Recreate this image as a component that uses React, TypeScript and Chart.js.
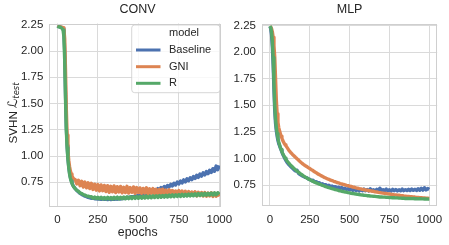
import React, { useEffect, useRef } from "react";
import { Chart, registerables } from "chart.js";

Chart.register(...registerables);

// ---------- data ----------
const EPOCHS = [
  0, 5, 10, 15, 20, 25, 30, 35, 40, 45, 50, 55, 60, 65, 70, 75, 80, 85, 90, 95, 100,
  110, 120, 130, 140, 150, 160, 170, 180, 190, 200,
  210, 220, 230, 240, 250, 260, 270, 280, 290, 300,
  310, 320, 330, 340, 350, 360, 370, 380, 390, 400,
  410, 420, 430, 440, 450, 460, 470, 480, 490, 500,
  510, 520, 530, 540, 550, 560, 570, 580, 590, 600,
  610, 620, 630, 640, 650, 660, 670, 680, 690, 700,
  710, 720, 730, 740, 750, 760, 770, 780, 790, 800,
  810, 820, 830, 840, 850, 860, 870, 880, 890, 900,
  910, 920, 930, 940, 950, 960, 970, 980, 990, 1000,
];

const MODELS = ["Baseline", "GNI", "R"];
const X_TICKS = [0, 250, 500, 750, 1000];
const Y_TICKS = [0.75, 1.0, 1.25, 1.5, 1.75, 2.0, 2.25];

const CONV_BASELINE = [
  2.24, 2.235, 2.232, 2.23, 2.228, 2.225, 2.22, 2.215, 2.18, 2.0, 1.6, 1.28, 1.1, 0.98, 0.9, 0.84, 0.8, 0.77, 0.745, 0.725, 0.71,
  0.69, 0.672, 0.658, 0.645, 0.634, 0.626, 0.618, 0.613, 0.606, 0.603,
  0.598, 0.6, 0.593, 0.596, 0.59, 0.593, 0.588, 0.592, 0.587, 0.59,
  0.585, 0.59, 0.586, 0.59, 0.587, 0.592, 0.589, 0.594, 0.591, 0.597,
  0.596, 0.603, 0.601, 0.608, 0.606, 0.614, 0.612, 0.62, 0.619, 0.627,
  0.622, 0.64, 0.628, 0.65, 0.637, 0.659, 0.646, 0.668, 0.656, 0.679,
  0.667, 0.69, 0.677, 0.7, 0.687, 0.71, 0.697, 0.72, 0.706, 0.73,
  0.716, 0.741, 0.724, 0.752, 0.735, 0.762, 0.744, 0.773, 0.754, 0.783,
  0.765, 0.794, 0.775, 0.805, 0.786, 0.817, 0.797, 0.829, 0.809, 0.84,
  0.82, 0.852, 0.832, 0.865, 0.844, 0.88, 0.855, 0.905, 0.87, 0.91,
];

const CONV_GNI = [
  2.24, 2.238, 2.235, 2.233, 2.23, 2.228, 2.225, 2.222, 2.21, 2.12, 1.82, 1.45, 1.2, 1.05, 0.96, 0.9, 0.86, 0.83, 0.81, 0.795, 0.785,
  0.775, 0.735, 0.77, 0.718, 0.76, 0.705, 0.752, 0.698, 0.745, 0.69,
  0.74, 0.682, 0.732, 0.675, 0.728, 0.668, 0.725, 0.67, 0.72, 0.662,
  0.718, 0.655, 0.712, 0.66, 0.715, 0.652, 0.708, 0.658, 0.71, 0.65,
  0.702, 0.652, 0.712, 0.648, 0.7, 0.655, 0.706, 0.645, 0.7, 0.652,
  0.696, 0.645, 0.692, 0.648, 0.698, 0.64, 0.688, 0.646, 0.69, 0.64,
  0.684, 0.642, 0.682, 0.636, 0.685, 0.64, 0.676, 0.635, 0.678, 0.632,
  0.672, 0.635, 0.668, 0.632, 0.672, 0.628, 0.666, 0.632, 0.664, 0.626,
  0.662, 0.624, 0.658, 0.627, 0.66, 0.62, 0.655, 0.625, 0.653, 0.62,
  0.652, 0.618, 0.648, 0.621, 0.65, 0.616, 0.645, 0.618, 0.646, 0.616,
];

const CONV_R = [
  2.235, 2.232, 2.23, 2.228, 2.225, 2.22, 2.212, 2.2, 2.14, 1.92, 1.55, 1.25, 1.08, 0.97, 0.89, 0.83, 0.79, 0.762, 0.74, 0.722, 0.708,
  0.69, 0.673, 0.664, 0.649, 0.643, 0.633, 0.628, 0.62, 0.618, 0.611,
  0.614, 0.598, 0.61, 0.595, 0.608, 0.593, 0.607, 0.592, 0.606, 0.591,
  0.607, 0.592, 0.606, 0.591, 0.608, 0.593, 0.609, 0.592, 0.608, 0.594,
  0.61, 0.593, 0.611, 0.595, 0.612, 0.596, 0.613, 0.597, 0.614, 0.598,
  0.615, 0.599, 0.617, 0.6, 0.618, 0.602, 0.619, 0.603, 0.621, 0.605,
  0.622, 0.606, 0.624, 0.607, 0.625, 0.609, 0.627, 0.61, 0.628, 0.612,
  0.63, 0.613, 0.632, 0.615, 0.633, 0.616, 0.635, 0.618, 0.636, 0.619,
  0.638, 0.621, 0.639, 0.622, 0.641, 0.623, 0.642, 0.625, 0.643, 0.626,
  0.645, 0.627, 0.646, 0.629, 0.648, 0.63, 0.649, 0.631, 0.651, 0.635,
];

const MLP_BASELINE = [
  2.24, 2.22, 2.16, 2.05, 1.88, 1.65, 1.45, 1.33, 1.26, 1.21, 1.17, 1.14, 1.12, 1.1, 1.08, 1.06, 1.04, 1.025, 1.01, 0.995, 0.98,
  0.958, 0.94, 0.925, 0.91, 0.895, 0.882, 0.888, 0.858, 0.848, 0.838,
  0.832, 0.822, 0.82, 0.806, 0.805, 0.792, 0.795, 0.78, 0.782, 0.77,
  0.772, 0.758, 0.762, 0.75, 0.753, 0.742, 0.748, 0.735, 0.741, 0.73,
  0.735, 0.722, 0.73, 0.718, 0.726, 0.712, 0.72, 0.708, 0.716, 0.705,
  0.715, 0.7, 0.712, 0.698, 0.71, 0.695, 0.708, 0.697, 0.712, 0.696,
  0.708, 0.695, 0.715, 0.697, 0.706, 0.694, 0.71, 0.696, 0.72, 0.698,
  0.707, 0.695, 0.712, 0.696, 0.705, 0.694, 0.71, 0.697, 0.708, 0.695,
  0.705, 0.696, 0.712, 0.697, 0.707, 0.698, 0.71, 0.698, 0.712, 0.7,
  0.71, 0.699, 0.715, 0.701, 0.72, 0.702, 0.725, 0.704, 0.718, 0.708,
];

const MLP_GNI = [
  2.24, 2.235, 2.22, 2.19, 2.14, 2.06, 1.95, 1.75, 1.55, 1.42, 1.34, 1.29, 1.26, 1.235, 1.21, 1.19, 1.17, 1.155, 1.14, 1.13, 1.12,
  1.097, 1.073, 1.056, 1.04, 1.026, 1.011, 0.997, 0.984, 0.97, 0.956,
  0.944, 0.934, 0.925, 0.914, 0.905, 0.894, 0.886, 0.874, 0.866, 0.855,
  0.848, 0.838, 0.832, 0.822, 0.816, 0.808, 0.804, 0.796, 0.792, 0.785,
  0.781, 0.774, 0.771, 0.764, 0.761, 0.755, 0.753, 0.747, 0.745, 0.739,
  0.737, 0.731, 0.729, 0.723, 0.721, 0.716, 0.714, 0.709, 0.708, 0.703,
  0.702, 0.697, 0.696, 0.692, 0.691, 0.686, 0.685, 0.681, 0.679, 0.676,
  0.674, 0.671, 0.67, 0.667, 0.666, 0.662, 0.662, 0.658, 0.658, 0.654,
  0.654, 0.65, 0.65, 0.647, 0.646, 0.643, 0.643, 0.64, 0.64, 0.637,
  0.637, 0.634, 0.634, 0.631, 0.631, 0.629, 0.628, 0.626, 0.626, 0.624,
];

const MLP_R = [
  2.245, 2.23, 2.19, 2.1, 1.95, 1.72, 1.5, 1.37, 1.29, 1.235, 1.19, 1.155, 1.13, 1.105, 1.085, 1.065, 1.048, 1.032, 1.018, 1.004, 0.992,
  0.97, 0.953, 0.936, 0.922, 0.906, 0.894, 0.88, 0.869, 0.857, 0.847,
  0.836, 0.827, 0.817, 0.809, 0.8, 0.793, 0.784, 0.778, 0.77, 0.765,
  0.758, 0.753, 0.746, 0.742, 0.735, 0.731, 0.725, 0.721, 0.716, 0.713,
  0.707, 0.704, 0.699, 0.696, 0.692, 0.689, 0.685, 0.683, 0.679, 0.677,
  0.673, 0.671, 0.668, 0.666, 0.663, 0.661, 0.658, 0.657, 0.654, 0.653,
  0.65, 0.649, 0.647, 0.646, 0.644, 0.643, 0.641, 0.64, 0.638, 0.638,
  0.636, 0.636, 0.634, 0.634, 0.632, 0.632, 0.63, 0.63, 0.629, 0.629,
  0.627, 0.627, 0.626, 0.626, 0.624, 0.625, 0.623, 0.624, 0.622, 0.623,
  0.621, 0.622, 0.62, 0.621, 0.62, 0.62, 0.619, 0.62, 0.618, 0.619,
];

// ---------- styling ----------
const W = 449;
const H = 245;
const COLORS = ["#4c72b0", "#dd8452", "#55a868"];
const FONT = '"Liberation Sans", Arial, sans-serif';
const TEXT = "#262626";
const GRID = "#dadada";

type Panel = {
  title: string;
  series: number[][];
  xMin: number;
  xMax: number;
  yMin: number;
  yMax: number;
  area: { left: number; right: number; top: number; bottom: number };
  xTickPad: number;
  decorate: boolean;
};

const PANELS: Panel[] = [
  {
    title: "CONV",
    series: [CONV_BASELINE, CONV_GNI, CONV_R],
    xMin: -50,
    xMax: 1007,
    yMin: 0.512,
    yMax: 2.262,
    area: { left: 49.3, right: 220.5, top: 23.5, bottom: 207.3 },
    xTickPad: 5.8,
    decorate: true,
  },
  {
    title: "MLP",
    series: [MLP_BASELINE, MLP_GNI, MLP_R],
    xMin: -50,
    xMax: 1050,
    yMin: 0.553,
    yMax: 2.264,
    area: { left: 262, right: 439, top: 24, bottom: 206 },
    xTickPad: 6.5,
    decorate: false,
  },
];

const Y_AXIS_W = 40;
const X_AXIS_H = 30;

function makeDecor(panel: Panel) {
  return {
    id: "decor_" + panel.title,
    afterDraw(chart: any) {
      const { ctx, chartArea: a } = chart;
      ctx.save();
      // frame (spines)
      ctx.strokeStyle = "#cfcfcf";
      ctx.lineWidth = 1;
      const l = Math.round(a.left) + 0.5;
      const t = Math.round(a.top) + 0.5;
      const r = Math.round(a.right) - 0.5;
      const b = Math.round(a.bottom) - 0.5;
      ctx.strokeRect(l, t, r - l, b - t);

      // title
      ctx.fillStyle = TEXT;
      ctx.font = `12.5px ${FONT}`;
      ctx.textAlign = "center";
      ctx.textBaseline = "middle";
      const cx = panel.decorate ? 137.5 : (a.left + a.right) / 2;
      ctx.fillText(panel.title, cx, 10);

      if (panel.decorate) {
        // x label
        ctx.font = `12.3px ${FONT}`;
        ctx.textBaseline = "alphabetic";
        ctx.fillText("epochs", 137.7, 235.7);

        // y label: SVHN ℒ_test
        ctx.save();
        ctx.translate(16.6, 113);
        ctx.rotate(-Math.PI / 2);
        ctx.textAlign = "left";
        ctx.textBaseline = "alphabetic";
        const p1 = "SVHN ";
        const p2 = "\u2112";
        const p3 = "test";
        const f1 = `11.6px ${FONT}`;
        const f2 = `13px "DejaVu Sans"`;
        const f3 = `italic 8.4px "DejaVu Sans"`;
        ctx.font = f1;
        const w1 = ctx.measureText(p1).width;
        ctx.font = f2;
        const w2 = ctx.measureText(p2).width;
        ctx.font = f3;
        const w3 = ctx.measureText(p3).width;
        let x0 = -(w1 + w2 + w3) / 2;
        ctx.font = f1;
        ctx.fillText(p1, x0, 0);
        x0 += w1;
        ctx.font = f2;
        ctx.fillText(p2, x0, 0);
        x0 += w2;
        ctx.font = f3;
        ctx.fillText(p3, x0, 2.2);
        ctx.restore();

        // legend
        const lx = 131.7;
        const ly = 25;
        const lw = 88.3;
        const lh = 67.7;
        const rad = 3;
        ctx.beginPath();
        ctx.moveTo(lx + rad, ly);
        ctx.lineTo(lx + lw - rad, ly);
        ctx.quadraticCurveTo(lx + lw, ly, lx + lw, ly + rad);
        ctx.lineTo(lx + lw, ly + lh - rad);
        ctx.quadraticCurveTo(lx + lw, ly + lh, lx + lw - rad, ly + lh);
        ctx.lineTo(lx + rad, ly + lh);
        ctx.quadraticCurveTo(lx, ly + lh, lx, ly + lh - rad);
        ctx.lineTo(lx, ly + rad);
        ctx.quadraticCurveTo(lx, ly, lx + rad, ly);
        ctx.closePath();
        ctx.fillStyle = "rgba(255,255,255,0.8)";
        ctx.fill();
        ctx.strokeStyle = "rgba(204,204,204,0.8)";
        ctx.lineWidth = 1;
        ctx.stroke();

        ctx.font = `11px ${FONT}`;
        ctx.fillStyle = TEXT;
        ctx.textAlign = "left";
        ctx.textBaseline = "middle";
        ctx.fillText("model", 169, 33.3);
        const rows = [50, 66.7, 83.3];
        MODELS.forEach((m, k) => {
          ctx.strokeStyle = COLORS[k];
          ctx.lineWidth = 3;
          ctx.lineCap = "butt";
          ctx.beginPath();
          ctx.moveTo(136, rows[k]);
          ctx.lineTo(160.5, rows[k]);
          ctx.stroke();
          ctx.fillStyle = TEXT;
          ctx.fillText(m, 169, rows[k]);
        });
      }
      ctx.restore();
    },
  };
}

function buildChart(canvas: HTMLCanvasElement, panel: Panel) {
  const datasets = MODELS.map((m, k) => ({
    label: m,
    data: EPOCHS.map((e, i) => ({ x: e, y: panel.series[k][i] })),
    borderColor: COLORS[k],
    backgroundColor: COLORS[k],
    borderWidth: 3.4,
    borderJoinStyle: "round" as const,
    pointRadius: 0,
    tension: 0,
    order: 3 - k,
  }));

  const a = panel.area;
  return new Chart(canvas, {
    type: "line",
    data: { datasets },
    plugins: [makeDecor(panel)],
    options: {
      responsive: false,
      animation: false,
      devicePixelRatio: 1,
      events: [],
      layout: {
        padding: {
          left: a.left - Y_AXIS_W,
          right: W - a.right,
          top: a.top,
          bottom: H - a.bottom - X_AXIS_H,
        },
      },
      plugins: {
        legend: { display: false },
        title: { display: false },
        tooltip: { enabled: false },
      },
      scales: {
        x: {
          type: "linear",
          min: panel.xMin,
          max: panel.xMax,
          bounds: "data",
          afterBuildTicks: (scale: any) => {
            scale.ticks = X_TICKS.map((v) => ({ value: v }));
          },
          afterFit: (scale: any) => {
            scale.height = X_AXIS_H;
          },
          grid: { color: GRID, lineWidth: 1, drawTicks: false },
          border: { display: false },
          ticks: {
            autoSkip: false,
            maxRotation: 0,
            minRotation: 0,
            padding: panel.xTickPad,
            color: TEXT,
            font: { family: FONT, size: 11.5 },
            callback: (v: any) => String(v),
          },
        },
        y: {
          type: "linear",
          min: panel.yMin,
          max: panel.yMax,
          bounds: "data",
          afterBuildTicks: (scale: any) => {
            scale.ticks = Y_TICKS.map((v) => ({ value: v }));
          },
          afterFit: (scale: any) => {
            scale.width = Y_AXIS_W;
          },
          grid: { color: GRID, lineWidth: 1, drawTicks: false },
          border: { display: false },
          ticks: {
            autoSkip: false,
            padding: 6,
            color: TEXT,
            font: { family: FONT, size: 11.5 },
            callback: (v: any) => Number(v).toFixed(2),
          },
        },
      },
    },
  } as any);
}

export default function App() {
  const ref1 = useRef<HTMLCanvasElement>(null);
  const ref2 = useRef<HTMLCanvasElement>(null);

  useEffect(() => {
    const c1 = buildChart(ref1.current!, PANELS[0]);
    const c2 = buildChart(ref2.current!, PANELS[1]);
    return () => {
      c1.destroy();
      c2.destroy();
    };
  }, []);

  return (
    <div style={{ position: "absolute", left: 0, top: 0, width: W, height: H, background: "#fff" }}>
      <canvas ref={ref1} width={W} height={H} style={{ position: "absolute", left: 0, top: 0 }} />
      <canvas ref={ref2} width={W} height={H} style={{ position: "absolute", left: 0, top: 0 }} />
    </div>
  );
}
